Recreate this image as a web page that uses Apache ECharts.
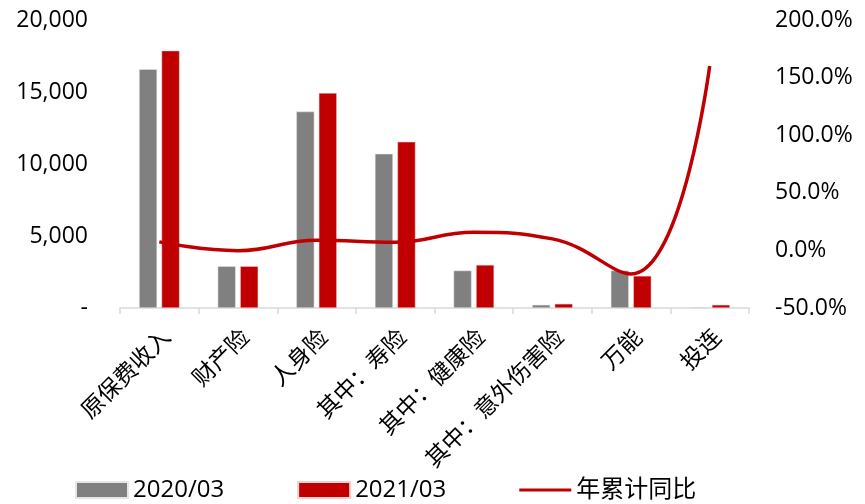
<!DOCTYPE html>
<html><head><meta charset="utf-8">
<script src="https://cdn.jsdelivr.net/npm/echarts@6/dist/echarts.min.js"></script>
<style>html,body{margin:0;padding:0;background:#fff}#c{width:865px;height:504px}</style>
</head><body><div id="c"></div>
<script>
const categories = ['原保费收入','财产险','人身险','其中：寿险','其中：健康险','其中：意外伤害险','万能','投连'];
const s2020 = [16580, 2900, 13640, 10710, 2600, 220, 2600, 60];
const s2021 = [17870, 2900, 14930, 11540, 2990, 290, 2230, 220];
const yoy = [7.4, -0.2, 8.8, 7.0, 15.7, 10.0, -20.5, 160.0];
const seriesNames = ['2020/03','2021/03','年累计同比'];

const FONT = '"Open Sans","Noto Sans CJK SC",sans-serif';
const lineIcon = 'path://M0,0 L0.05,0 L0.05,0.05 Z M0,6.5 L52,6.5 L52,9.5 L0,9.5 Z M0,16 L0.05,16 L0.05,15.95 Z';
const chart = echarts.init(document.getElementById('c'), null, {renderer:'canvas'});
chart.setOption({
  animation:false,
  textStyle:{fontFamily:FONT},
  grid:{left:120,right:116,top:20,bottom:196,containLabel:false},
  legend:{
    left:75, bottom:2, padding:0, itemWidth:52, itemHeight:16, itemGap:73,
    textStyle:{fontSize:24,color:'#000',fontFamily:FONT},
    data:[{name:seriesNames[0],icon:'rect'},{name:seriesNames[1],icon:'rect'},
          {name:seriesNames[2],icon:lineIcon,itemStyle:{color:'#C00000'}}]
  },
  xAxis:{
    type:'category', data:categories,
    axisLine:{lineStyle:{color:'#d9d9d9',width:1.5}},
    axisTick:{show:true,length:6,lineStyle:{color:'#d9d9d9',width:1.5}},
    axisLabel:{rotate:45,interval:0,fontSize:23,color:'#000',margin:18,fontFamily:FONT,
      verticalAlign:'top'}
  },
  yAxis:[{
    type:'value', min:0, max:20000, interval:5000,
    splitLine:{show:false}, axisLine:{show:false}, axisTick:{show:false},
    axisLabel:{fontSize:23,color:'#000',margin:32,fontFamily:FONT,
      formatter:v=> v===0 ? '-' : v.toLocaleString('en-US')}
  },{
    type:'value', min:-50, max:200, interval:50,
    splitLine:{show:false}, axisLine:{show:false}, axisTick:{show:false},
    axisLabel:{fontSize:23,color:'#000',margin:26,fontFamily:FONT,
      formatter:v=> v.toFixed(1)+'%'}
  }],
  series:[
    {name:seriesNames[0],type:'bar',data:s2020,barWidth:18,barGap:'25%',
     itemStyle:{color:'#808080',borderColor:'#e6e6e6',borderWidth:0.5}},
    {name:seriesNames[1],type:'bar',data:s2021,barWidth:18,
     itemStyle:{color:'#C00000',borderColor:'#f0d0d0',borderWidth:0.5}},
    {name:seriesNames[2],type:'line',yAxisIndex:1,data:yoy,smooth:0.45,symbol:'none',
     lineStyle:{color:'#C00000',width:3.5},itemStyle:{color:'#C00000'}}
  ]
});
</script></body></html>
